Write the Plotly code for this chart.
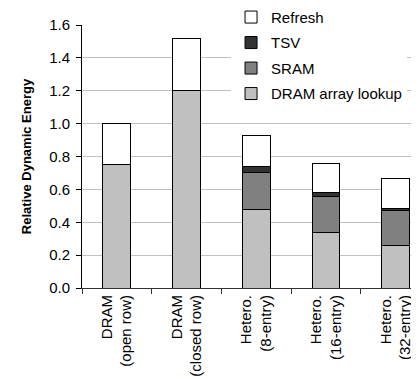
import plotly.graph_objects as go

categories = ["DRAM<br>(open row)", "DRAM<br>(closed row)", "Hetero.<br>(8-entry)",
              "Hetero.<br>(16-entry)", "Hetero.<br>(32-entry)"]
dram_lookup = [0.75, 1.20, 0.48, 0.34, 0.26]
sram = [0.0, 0.0, 0.22, 0.215, 0.21]
tsv = [0.0, 0.0, 0.04, 0.025, 0.015]
refresh = [0.25, 0.32, 0.19, 0.18, 0.18]

series = [
    ("DRAM array lookup", dram_lookup, "#C0C0C0"),
    ("SRAM", sram, "#808080"),
    ("TSV", tsv, "#333333"),
    ("Refresh", refresh, "#FFFFFF"),
]

FONT = "Liberation Sans, Arial, sans-serif"
fig = go.Figure()
for i, (name, vals, col) in enumerate(series):
    fig.add_trace(go.Bar(
        x=categories, y=vals, name=name, legendgroup=str(i),
        legendrank=len(series) - i,
        marker=dict(color=col, line=dict(color="#000000", width=1)),
        width=0.4,
    ))

fig.update_layout(
    barmode="stack",
    width=419, height=379,
    margin=dict(l=74, r=0, t=17, b=99, autoexpand=False),
    paper_bgcolor="white", plot_bgcolor="white",
    font=dict(family=FONT, size=15, color="#000000"),
    showlegend=True,
    legend=dict(
        x=0.432, y=1.092, xanchor="left", yanchor="top",
        traceorder="grouped", tracegroupgap=3,
        bgcolor="white", font=dict(size=15),
        itemwidth=30,
    ),
    xaxis=dict(
        type="category", range=[-0.5, 4.45], tickangle=-90, ticks="outside",
        tickson="boundaries", ticklen=5, tickcolor="#333333", showline=True,
        linecolor="#333333", linewidth=1, showgrid=False, tickfont=dict(size=15),
    ),
    yaxis=dict(
        range=[0, 1.6], dtick=0.2, tickformat=".1f", ticks="outside", ticklen=5,
        tickcolor="#000000", showline=True, linecolor="#000000", linewidth=1,
        showgrid=True, gridcolor="#C0C0C0", gridwidth=1, zeroline=False,
        tickfont=dict(size=15), ticklabelstandoff=3,
        title=dict(text="<b>Relative Dynamic Energy</b>", font=dict(size=13), standoff=14),
    ),
)

fig.write_html("out.html")
